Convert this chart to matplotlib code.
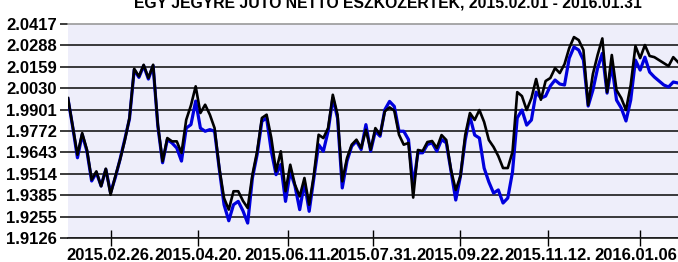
import numpy as np
import pandas as pd
import matplotlib
matplotlib.use('Agg')
import matplotlib.pyplot as plt
import matplotlib.transforms as mtransforms

plt.rcParams['font.family'] = ['Liberation Sans', 'DejaVu Sans']

title = "EGY JEGYRE JUTÓ NETTÓ ESZKÖZÉRTÉK, 2015.02.01 - 2016.01.31"

# every second business day of the period
start = '2015-02-02'
dates = pd.bdate_range(start, '2016-01-29')[::2]

# fund (black) and benchmark (blue)
fund = [1.9970, 1.9800, 1.9628, 1.9759, 1.9659, 1.9478, 1.9528, 1.9438, 1.9544, 1.9387,
        1.9498, 1.9598, 1.9713, 1.9850, 2.0147, 2.0101, 2.0171, 2.0091, 2.0171, 1.9809,
        1.9589, 1.9729, 1.9709, 1.9709, 1.9639, 1.9839, 1.9926, 2.0041, 1.9880, 1.9930,
        1.9870, 1.9789, 1.9548, 1.9367, 1.9297, 1.9408, 1.9408, 1.9350, 1.9307, 1.9508,
        1.9649, 1.9850, 1.9870, 1.9729, 1.9528, 1.9649, 1.9408, 1.9568, 1.9447, 1.9377,
        1.9488, 1.9327, 1.9508, 1.9749, 1.9729, 1.9789, 1.9990, 1.9870, 1.9468, 1.9608,
        1.9689, 1.9719, 1.9669, 1.9779, 1.9659, 1.9789, 1.9749, 1.9890, 1.9914, 1.9894,
        1.9749, 1.9689, 1.9699, 1.9370, 1.9657, 1.9651, 1.9705, 1.9711, 1.9669, 1.9747,
        1.9717, 1.9536, 1.9416, 1.9500, 1.9747, 1.9880, 1.9838, 1.9898, 1.9826, 1.9717,
        1.9675, 1.9620, 1.9548, 1.9548, 1.9645, 2.0006, 1.9982, 1.9898, 1.9970, 2.0085,
        1.9960, 2.0073, 2.0091, 2.0151, 2.0121, 2.0175, 2.0272, 2.0338, 2.0320, 2.0260,
        1.9928, 2.0115, 2.0230, 2.0330, 2.0006, 2.0230, 2.0018, 1.9970, 1.9898, 2.0049,
        2.0284, 2.0211, 2.0290, 2.0224, 2.0217, 2.0199, 2.0181, 2.0163, 2.0217, 2.0187]

bench = [1.9965, 1.9795, 1.9610, 1.9750, 1.9650, 1.9470, 1.9520, 1.9440, 1.9540, 1.9400,
         1.9490, 1.9600, 1.9720, 1.9845, 2.0140, 2.0095, 2.0165, 2.0085, 2.0165, 1.9800,
         1.9580, 1.9720, 1.9699, 1.9669, 1.9590, 1.9789, 1.9810, 1.9952, 1.9789, 1.9770,
         1.9780, 1.9770, 1.9540, 1.9327, 1.9230, 1.9327, 1.9347, 1.9290, 1.9216, 1.9488,
         1.9630, 1.9830, 1.9850, 1.9649, 1.9508, 1.9569, 1.9347, 1.9528, 1.9440, 1.9297,
         1.9460, 1.9287, 1.9490, 1.9689, 1.9649, 1.9770, 1.9970, 1.9850, 1.9428, 1.9590,
         1.9680, 1.9710, 1.9660, 1.9810, 1.9650, 1.9770, 1.9740, 1.9900, 1.9950, 1.9920,
         1.9770, 1.9770, 1.9720, 1.9440, 1.9640, 1.9640, 1.9690, 1.9700, 1.9650, 1.9720,
         1.9700, 1.9530, 1.9355, 1.9500, 1.9717, 1.9860, 1.9747, 1.9729, 1.9548, 1.9464,
         1.9397, 1.9416, 1.9337, 1.9367, 1.9524, 1.9850, 1.9898, 1.9807, 1.9838, 2.0006,
         1.9970, 1.9982, 2.0043, 2.0079, 2.0055, 2.0049, 2.0211, 2.0278, 2.0260, 2.0199,
         1.9922, 2.0018, 2.0151, 2.0240, 2.0000, 2.0169, 1.9958, 1.9910, 1.9832, 1.9958,
         2.0199, 2.0139, 2.0217, 2.0127, 2.0097, 2.0073, 2.0049, 2.0037, 2.0067, 2.0061]

tick_dates = ['2015-02-26', '2015-04-20', '2015-06-11', '2015-07-31',
              '2015-09-22', '2015-11-12', '2016-01-06']
tick_labels = ['2015.02.26.', '2015.04.20.', '2015.06.11.', '2015.07.31.',
               '2015.09.22.', '2015.11.12.', '2016.01.06']
y_ticks = [1.9126, 1.9255, 1.9385, 1.9514, 1.9643, 1.9772,
           1.9901, 2.0030, 2.0159, 2.0288, 2.0417]

# x axis runs on trading days
x = np.busday_count(np.datetime64(start), dates.values.astype('datetime64[D]'))
xt = np.busday_count(np.datetime64(start), np.array(tick_dates, dtype='datetime64[D]'))

W, H = 678, 262
fig = plt.figure(figsize=(W / 100, H / 100), dpi=100)
ax = fig.add_axes([68 / W, 24 / H, 610 / W, 214 / H])
ax.set_facecolor('#eeeefa')

for v in y_ticks[:-1]:
    ax.axhline(v, color='#1a1a1a', lw=1.2, zorder=1)

ax.plot(x, bench, color='#0000dd', lw=2.3, zorder=2)
ax.plot(x, fund, color='black', lw=1.9, zorder=3)

ax.set_xlim(x[0], x[-1])
ax.set_ylim(y_ticks[0], y_ticks[-1])

ax.set_yticks(y_ticks)
ax.set_yticklabels(['%.4f' % v for v in y_ticks])
ax.set_xticks(xt)
ax.set_xticklabels(tick_labels)

for s in ['left', 'right']:
    ax.spines[s].set_visible(False)
ax.spines['top'].set_color('#999999')
ax.spines['top'].set_linewidth(1.2)
ax.spines['bottom'].set_color('#1a1a1a')
ax.spines['bottom'].set_linewidth(1.2)

ax.tick_params(axis='y', direction='out', length=6, width=1.2, color='#1a1a1a',
               pad=2, labelsize=12)
ax.tick_params(axis='x', direction='inout', length=12, width=1, color='black',
               pad=1, labelsize=12)
for lab in ax.get_xticklabels() + ax.get_yticklabels():
    lab.set_fontweight('bold')

# nudge the last date label so it stays inside the image
last = ax.get_xticklabels()[-1]
last.set_transform(last.get_transform() +
                   mtransforms.ScaledTranslation(-4 / 100, 0, fig.dpi_scale_trans))

# title sits partly above the top edge, as in the source image
fig.text(388 / W, 1 - 7 / H, title, ha='center', va='baseline',
         fontsize=11.3, fontweight='bold')

fig.savefig('out.png', dpi=100)
